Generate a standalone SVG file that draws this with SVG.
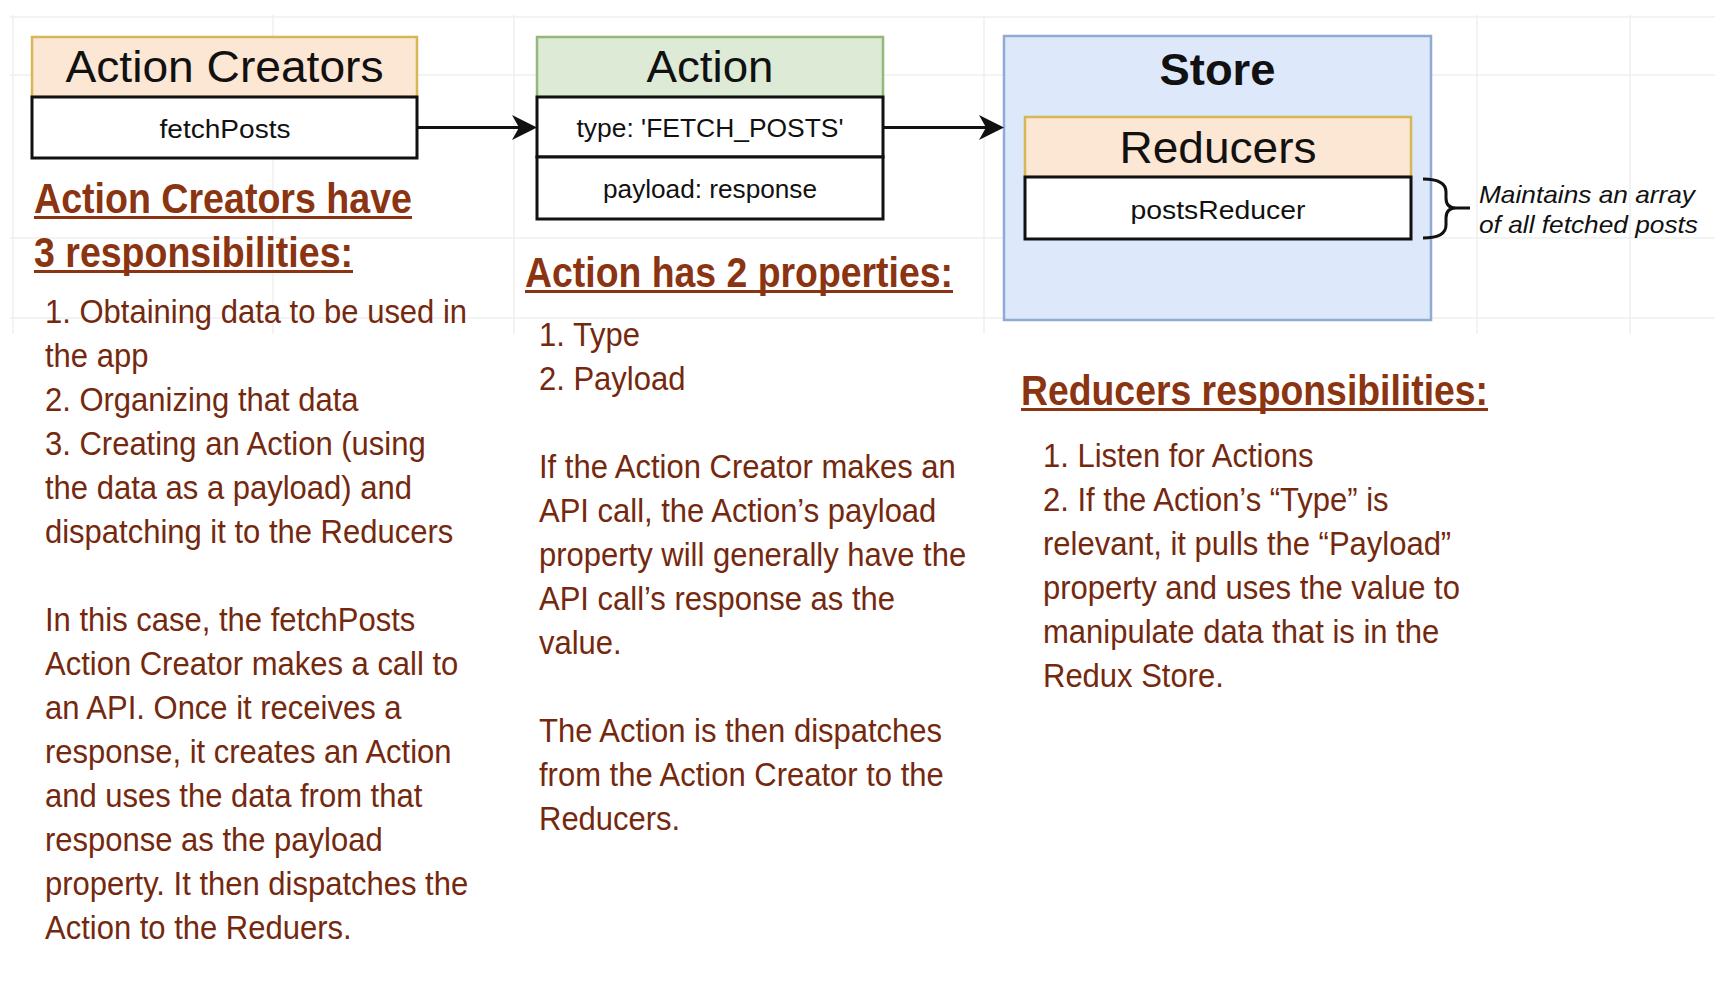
<svg xmlns="http://www.w3.org/2000/svg" width="1715" height="992" viewBox="0 0 1715 992">
<defs>
<style>
.t{font-family:"Liberation Sans",Arial,Helvetica,sans-serif}
.hdr{font-size:44px;fill:#111;text-anchor:middle}
.row{font-size:25px;fill:#111;text-anchor:middle}
.h{font-weight:bold;font-size:43px;fill:#8A3412}
.b{font-size:34px;fill:#74290F}
.ul{fill:#8A3412}
.grid{stroke:#efefef;stroke-width:1.5}
.warm{fill:#FCE6D4;stroke:#D6B656;stroke-width:2.5}
.white{fill:#ffffff;stroke:#111;stroke-width:3}
.conn{stroke:#111;stroke-width:3;fill:none}
</style>
<marker id="arr" markerUnits="userSpaceOnUse" markerWidth="26" markerHeight="26" refX="18" refY="12.5" orient="auto">
<path d="M0,0 L25,12.5 L0,25 L7,12.5 Z" fill="#111"/>
</marker>
</defs>
<rect width="1715" height="992" fill="#ffffff"/>
<g id="grid">
<line class="grid" x1="10" y1="17" x2="1715" y2="17"/>
<line class="grid" x1="10" y1="75" x2="1715" y2="75"/>
<line class="grid" x1="10" y1="238" x2="1715" y2="238"/>
<line class="grid" x1="10" y1="318" x2="1715" y2="318"/>
<line class="grid" x1="13" y1="15" x2="13" y2="334"/>
<line class="grid" x1="273" y1="15" x2="273" y2="334"/>
<line class="grid" x1="514" y1="15" x2="514" y2="334"/>
<line class="grid" x1="984" y1="15" x2="984" y2="334"/>
<line class="grid" x1="1477" y1="15" x2="1477" y2="334"/>
<line class="grid" x1="1630" y1="15" x2="1630" y2="334"/>
</g>

<g id="action-creators">
<rect class="warm" x="32" y="37" width="385" height="60"/>
<rect class="white" x="32" y="97" width="385" height="61"/>
<text class="t hdr" x="224.5" y="82" textLength="318" lengthAdjust="spacingAndGlyphs">Action Creators</text>
<text class="t row" x="225" y="138" textLength="131" lengthAdjust="spacingAndGlyphs">fetchPosts</text>
</g>

<g id="action">
<rect x="537" y="37" width="346" height="60" fill="#DDEAD6" stroke="#94B87A" stroke-width="2.5"/>
<rect class="white" x="537" y="97" width="346" height="60"/>
<rect class="white" x="537" y="157" width="346" height="62"/>
<text class="t hdr" x="710" y="82" textLength="127" lengthAdjust="spacingAndGlyphs">Action</text>
<text class="t row" x="710" y="137" textLength="267" lengthAdjust="spacingAndGlyphs">type: 'FETCH_POSTS'</text>
<text class="t row" x="710" y="198" textLength="214" lengthAdjust="spacingAndGlyphs">payload: response</text>
</g>

<g id="store">
<rect x="1004" y="36" width="427" height="284" fill="#DDE8FB" stroke="#8FAAD3" stroke-width="2.5"/>
<text class="t hdr" x="1217.5" y="85" font-weight="bold" textLength="116" lengthAdjust="spacingAndGlyphs">Store</text>
</g>

<g id="reducers">
<rect class="warm" x="1025" y="117" width="386" height="60"/>
<rect class="white" x="1025" y="177" width="386" height="62"/>
<text class="t hdr" x="1218" y="163" textLength="197" lengthAdjust="spacingAndGlyphs">Reducers</text>
<text class="t row" x="1218" y="219" textLength="175" lengthAdjust="spacingAndGlyphs">postsReducer</text>
</g>

<g id="brace-note">
<path class="conn" d="M1423,179 Q1446,179 1446,192 L1446,198 Q1446,208 1456,208 L1470,208 M1456,208 Q1446,208 1446,218 L1446,225 Q1446,238 1423,238"/>
<text class="t" x="1479" y="203" font-size="24" font-style="italic" fill="#111" textLength="216" lengthAdjust="spacingAndGlyphs">Maintains an array</text>
<text class="t" x="1479" y="233" font-size="24" font-style="italic" fill="#111" textLength="219" lengthAdjust="spacingAndGlyphs">of all fetched posts</text>
</g>

<g id="connectors">
<line class="conn" x1="417" y1="127.5" x2="530" y2="127.5" marker-end="url(#arr)"/>
<line class="conn" x1="883" y1="127.5" x2="997" y2="127.5" marker-end="url(#arr)"/>
</g>

<g id="action-creators-text">
<text class="t h" x="34" y="213" textLength="378" lengthAdjust="spacingAndGlyphs">Action Creators have</text>
<rect class="ul" x="34" y="216" width="378" height="3"/>
<text class="t h" x="34" y="267" textLength="319" lengthAdjust="spacingAndGlyphs">3 responsibilities:</text>
<rect class="ul" x="34" y="270" width="319" height="3"/>
<text class="t b" transform="translate(45,0) scale(0.912,1)">
<tspan x="0" y="323">1. Obtaining data to be used in</tspan>
<tspan x="0" y="367">the app</tspan>
<tspan x="0" y="411">2. Organizing that data</tspan>
<tspan x="0" y="455">3. Creating an Action (using</tspan>
<tspan x="0" y="499">the data as a payload) and</tspan>
<tspan x="0" y="543">dispatching it to the Reducers</tspan>
<tspan x="0" y="631">In this case, the fetchPosts</tspan>
<tspan x="0" y="675">Action Creator makes a call to</tspan>
<tspan x="0" y="719">an API. Once it receives a</tspan>
<tspan x="0" y="763">response, it creates an Action</tspan>
<tspan x="0" y="807">and uses the data from that</tspan>
<tspan x="0" y="851">response as the payload</tspan>
<tspan x="0" y="895">property. It then dispatches the</tspan>
<tspan x="0" y="939">Action to the Reduers.</tspan>
</text>
</g>

<g id="action-text">
<text class="t h" x="525" y="287" textLength="428" lengthAdjust="spacingAndGlyphs">Action has 2 properties:</text>
<rect class="ul" x="525" y="290" width="428" height="3"/>
<text class="t b" transform="translate(539,0) scale(0.912,1)">
<tspan x="0" y="346">1. Type</tspan>
<tspan x="0" y="390">2. Payload</tspan>
<tspan x="0" y="478">If the Action Creator makes an</tspan>
<tspan x="0" y="522">API call, the Action’s payload</tspan>
<tspan x="0" y="566">property will generally have the</tspan>
<tspan x="0" y="610">API call’s response as the</tspan>
<tspan x="0" y="654">value.</tspan>
<tspan x="0" y="742">The Action is then dispatches</tspan>
<tspan x="0" y="786">from the Action Creator to the</tspan>
<tspan x="0" y="830">Reducers.</tspan>
</text>
</g>

<g id="reducers-text">
<text class="t h" x="1021" y="405" textLength="467" lengthAdjust="spacingAndGlyphs">Reducers responsibilities:</text>
<rect class="ul" x="1021" y="408" width="467" height="3"/>
<text class="t b" transform="translate(1043,0) scale(0.912,1)">
<tspan x="0" y="467">1. Listen for Actions</tspan>
<tspan x="0" y="511">2. If the Action’s “Type” is</tspan>
<tspan x="0" y="555">relevant, it pulls the “Payload”</tspan>
<tspan x="0" y="599">property and uses the value to</tspan>
<tspan x="0" y="643">manipulate data that is in the</tspan>
<tspan x="0" y="687">Redux Store.</tspan>
</text>
</g>
</svg>
